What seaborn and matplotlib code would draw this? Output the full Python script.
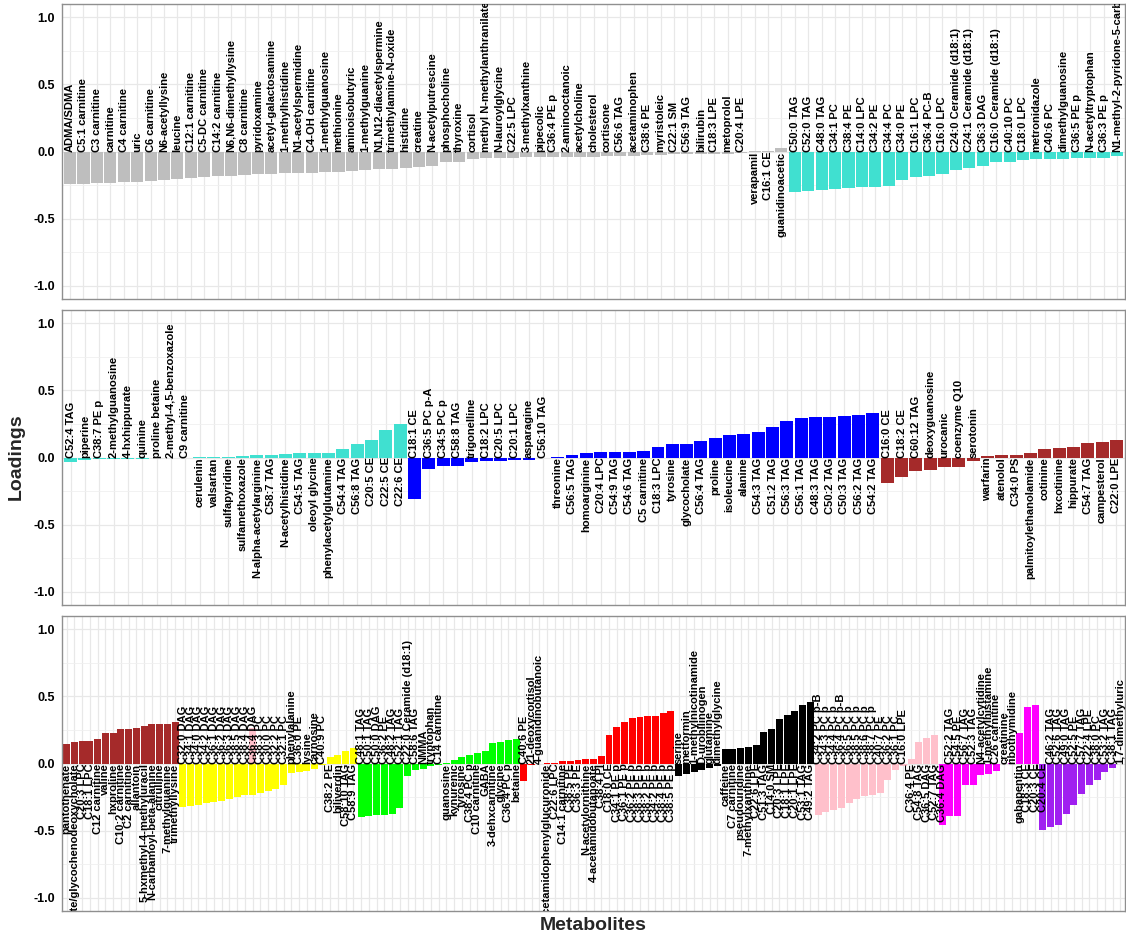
import matplotlib
matplotlib.use("Agg")
import matplotlib.pyplot as plt
import pandas as pd
import seaborn as sns

# ---------------------------------------------------------------- colours
CLUSTER_COLORS = {
    "grey": "#BEBEBE",
    "turquoise": "#40E0D0",
    "blue": "#0000FF",
    "brown": "#A52A2A",
    "yellow": "#FFFF00",
    "green": "#00FF00",
    "red": "#FF0000",
    "black": "#000000",
    "pink": "#FFC0CB",
    "magenta": "#FF00FF",
    "purple": "#A020F0",
}

# ---------------------------------------------------------------- row 1
GREY_NAMES = [
    "ADMA/SDMA", "C5:1 carnitine", "C3 carnitine", "carnitine", "C4 carnitine", "uric",
    "C6 carnitine", "N6-acetyllysine", "leucine", "C12:1 carnitine", "C5-DC carnitine",
    "C14:2 carnitine", "N6,N6-dimethyllysine", "C8 carnitine", "pyridoxamine",
    "acetyl-galactosamine", "1-methylhistidine", "N1-acetylspermidine", "C4-OH carnitine",
    "1-methylguanosine", "methionine", "aminoisobutyric", "1-methylguanine",
    "N1,N12-diacetylspermine", "trimethylamine-N-oxide", "histidine", "creatine",
    "N-acetylputrescine", "phosphocholine", "thyroxine", "cortisol",
    "methyl N-methylanthranilate", "N-lauroylglycine", "C22:5 LPC", "3-methylxanthine",
    "pipecolic", "C36:4 PE p", "2-aminooctanoic", "acetylcholine", "cholesterol",
    "cortisone", "C56:6 TAG", "acetaminophen", "C38:6 PE", "myristoleic", "C22:1 SM",
    "C56:9 TAG", "bilirubin", "C18:3 LPE", "metoprolol", "C20:4 LPE", "verapamil",
    "C16:1 CE", "guanidinoacetic",
]
GREY_LOADINGS = [
    -0.240, -0.240, -0.237, -0.235, -0.228, -0.225, -0.222, -0.212, -0.205, -0.197,
    -0.192, -0.186, -0.180, -0.172, -0.170, -0.166, -0.162, -0.160, -0.157, -0.155,
    -0.152, -0.146, -0.135, -0.133, -0.130, -0.122, -0.115, -0.110, -0.080, -0.080,
    -0.056, -0.052, -0.048, -0.045, -0.044, -0.043, -0.042, -0.041, -0.040, -0.038,
    -0.037, -0.035, -0.031, -0.027, -0.023, -0.022, -0.020, -0.019, -0.017, -0.015,
    -0.012, 0.001, 0.003, 0.025,
]

TURQUOISE_A_NAMES = [
    "C50:0 TAG", "C52:0 TAG", "C48:0 TAG", "C34:1 PC", "C38:4 PE", "C14:0 LPC",
    "C34:2 PE", "C34:4 PC", "C34:0 PE", "C16:1 LPC", "C36:4 PC-B", "C16:0 LPC",
    "C24:0 Ceramide (d18:1)", "C24:1 Ceramide (d18:1)", "C36:3 DAG",
    "C16:0 Ceramide (d18:1)", "C40:10 PC", "C18:0 LPC", "metronidazole", "C40:6 PC",
    "dimethylguanosine", "C36:5 PE p", "N-acetyltryptophan", "C36:3 PE p",
    "N1-methyl-2-pyridone-5-carboxamide",
]
TURQUOISE_A_LOADINGS = [
    -0.300, -0.292, -0.287, -0.280, -0.273, -0.267, -0.262, -0.260, -0.212, -0.187,
    -0.182, -0.167, -0.140, -0.120, -0.105, -0.082, -0.075, -0.060, -0.057, -0.056,
    -0.054, -0.048, -0.047, -0.045, -0.037,
]

# ---------------------------------------------------------------- row 2
TURQUOISE_B_NAMES = [
    "C52:4 TAG", "piperine", "C38:7 PE p", "2-methylguanosine", "4-hxhippurate",
    "quinine", "proline betaine", "2-methyl-4,5-benzoxazole", "C9 carnitine",
    "cerulenin", "valsartan", "sulfapyridine", "sulfamethoxazole",
    "N-alpha-acetylarginine", "C58:7 TAG", "N-acetylhistidine", "C54:5 TAG",
    "oleoyl glycine", "phenylacetylglutamine", "C54:4 TAG", "C56:8 TAG", "C20:5 CE",
    "C22:5 CE", "C22:6 CE",
]
TURQUOISE_B_LOADINGS = [
    -0.035, -0.017, -0.013, -0.012, -0.010, -0.009, -0.007, -0.006, -0.005, 0.001,
    0.003, 0.005, 0.012, 0.015, 0.017, 0.029, 0.030, 0.036, 0.037, 0.065, 0.102,
    0.130, 0.205, 0.250,
]

BLUE_NAMES = [
    "C18:1 CE", "C36:5 PC p-A", "C34:5 PC p", "C58:8 TAG", "trigonelline", "C18:2 LPC",
    "C20:5 LPC", "C20:1 LPC", "asparagine", "C56:10 TAG", "threonine", "C56:5 TAG",
    "homoarginine", "C20:4 LPC", "C54:9 TAG", "C54:6 TAG", "C5 carnitine", "C18:3 LPC",
    "tyrosine", "glycocholate", "C56:4 TAG", "proline", "isoleucine", "alanine",
    "C54:3 TAG", "C51:2 TAG", "C56:3 TAG", "C56:1 TAG", "C48:3 TAG", "C50:2 TAG",
    "C50:3 TAG", "C56:2 TAG", "C54:2 TAG",
]
BLUE_LOADINGS = [
    -0.312, -0.085, -0.067, -0.060, -0.030, -0.027, -0.025, -0.022, -0.017, -0.006,
    0.005, 0.020, 0.035, 0.040, 0.041, 0.042, 0.052, 0.080, 0.100, 0.101, 0.124,
    0.144, 0.169, 0.176, 0.190, 0.226, 0.275, 0.293, 0.300, 0.305, 0.308, 0.315,
    0.333,
]

BROWN_A_NAMES = [
    "C16:0 CE", "C18:2 CE", "C60:12 TAG", "deoxyguanosine", "urocanic", "coenzyme Q10",
    "serotonin", "warfarin", "atenolol", "C34:0 PS", "palmitoylethanolamide",
    "cotinine", "hxcotinine", "hippurate", "C54:7 TAG", "campesterol", "C22:0 LPE",
]
BROWN_A_LOADINGS = [
    -0.190, -0.146, -0.104, -0.092, -0.072, -0.071, -0.027, 0.010, 0.016, 0.017,
    0.032, 0.060, 0.070, 0.080, 0.110, 0.114, 0.127,
]

# ---------------------------------------------------------------- row 3
BROWN_B_NAMES = [
    "pantothenate", "glycodeoxycholate/glycochenodeoxycholate", "C20:3 LPC",
    "C18:1 LPC", "C12 carnitine", "valine", "hxproline", "C10:2 carnitine",
    "C2 carnitine", "allantoin", "5-hxmethyl-4-methyluracil",
    "N-carbamoyl-beta-alanine", "citrulline", "7-methylguanine", "trimethyllysine",
]
BROWN_B_LOADINGS = [
    0.143, 0.163, 0.168, 0.170, 0.180, 0.226, 0.230, 0.255, 0.256, 0.264, 0.280,
    0.293, 0.294, 0.296, 0.307,
]

YELLOW_NAMES = [
    "C32:0 DAG", "C34:1 DAG", "C34:0 DAG", "C34:2 DAG", "C36:1 DAG", "C36:2 DAG",
    "C36:3 DAG", "C38:5 DAG", "C38:4 DAG", "C36:4 DAG", "C38:3 PC", "C30:0 PC",
    "C32:2 PC", "C32:1 PC", "phenylalanine", "C36:0 PE", "lysine", "carnosine",
    "C40:9 PC", "C38:2 PE", "biliverdin", "C58:10 TAG", "C58:9 TAG",
]
YELLOW_LOADINGS = [
    -0.322, -0.317, -0.310, -0.297, -0.290, -0.280, -0.267, -0.247, -0.237, -0.232,
    -0.217, -0.204, -0.191, -0.159, -0.070, -0.060, -0.053, -0.038, -0.010, 0.050,
    0.060, 0.093, 0.113,
]

GREEN_NAMES = [
    "C48:1 TAG", "C50:1 TAG", "C50:0 DAG", "C36:2 PE", "C48:2 TAG", "C52:1 TAG",
    "C22:0 Ceramide (d18:1)", "C58:6 TAG", "NMMA", "tryptophan", "C14 carnitine",
    "guanosine", "kynurenic", "tyrosine", "C38:4 PC p", "C10 carnitine", "GABA",
    "3-dehxcarnitine", "glycine", "C36:4 PC p", "betaine",
]
GREEN_LOADINGS = [
    -0.397, -0.393, -0.387, -0.385, -0.379, -0.335, -0.096, -0.047, -0.040, -0.020,
    -0.008, 0.005, 0.025, 0.045, 0.065, 0.080, 0.095, 0.155, 0.157, 0.175, 0.180,
]

RED_NAMES = [
    "C40:6 PE", "21-deoxycortisol", "4-guanidinobutanoic",
    "4-acetamidophenylglucuronide", "C22:6 LPC", "C14:1 carnitine", "C38:5 PE",
    "C36:3 PE", "N-acetylornithine", "4-acetamidobutanoate", "C38:4 PI", "C18:0 CE",
    "C34:1 PE p", "C36:1 PE p", "C36:2 PE p", "C38:3 PE p", "C38:2 PE p",
    "C34:2 PE p", "C38:4 PE p", "C38:5 PE p",
]
RED_LOADINGS = [
    -0.130, -0.010, -0.005, 0.003, 0.006, 0.018, 0.022, 0.025, 0.030, 0.037, 0.055,
    0.212, 0.270, 0.310, 0.340, 0.350, 0.352, 0.355, 0.375, 0.390,
]

BLACK_NAMES = [
    "serine", "metformin", "1-methylnicotinamide", "D-urobilinogen", "glutamine",
    "dimethylglycine", "caffeine", "C7 carnitine", "pseudouridine", "7-methylxanthine",
    "C22:6 LPE", "C51:3 TAG", "C14:0 SM", "C20:3 LPE", "C18:1 LPE", "C20:1 LPE",
    "C53:1 TAG", "C49:2 TAG",
]
BLACK_LOADINGS = [
    -0.095, -0.075, -0.060, -0.045, -0.030, -0.020, 0.105, 0.110, 0.115, 0.120,
    0.140, 0.235, 0.260, 0.335, 0.360, 0.390, 0.440, 0.460,
]

PINK_NAMES = [
    "C34:2 PC p-B", "C34:3 PC p", "C34:4 PC p", "C36:4 PC p-B", "C36:5 PC p",
    "C38:5 PC p", "C38:6 PC p", "C38:7 PC p", "C40:7 PE", "C36:2 PC", "C36:1 PC",
    "C16:0 LPE", "C36:4 PE", "C54:8 TAG", "C36:5 DAG", "C52:7 TAG", "C36:4 DAG",
]
PINK_LOADINGS = [
    -0.385, -0.362, -0.350, -0.335, -0.292, -0.266, -0.246, -0.236, -0.220, -0.120,
    -0.045, -0.020, 0.030, 0.160, 0.190, 0.210, 0.265,
]

MAGENTA_NAMES = [
    "C52:2 TAG", "C54:5 PE", "C56:7 TAG", "C52:3 TAG", "N4-acetylcytidine",
    "1-methylhistamine", "C26 carnitine", "creatinine", "ribothymidine",
    "gabapentin", "C18:3 CE", "C20:3 CE", "C20:4 CE",
]
MAGENTA_LOADINGS = [
    -0.460, -0.395, -0.390, -0.160, -0.158, -0.085, -0.080, -0.055, -0.006, 0.005,
    0.225, 0.425, 0.440,
]

PURPLE_NAMES = [
    "C46:2 TAG", "C52:6 TAG", "C49:0 TAG", "C52:5 PE", "C57:7 TAG", "C22:4 LPE",
    "C38:0 PC", "C53:2 TAG", "C38:1 TAG", "1,7-dimethyluric",
]
PURPLE_LOADINGS = [
    -0.495, -0.475, -0.460, -0.380, -0.310, -0.230, -0.160, -0.120, -0.060, -0.030,
]

ROWS = [
    [("grey", GREY_NAMES, GREY_LOADINGS),
     ("turquoise", TURQUOISE_A_NAMES, TURQUOISE_A_LOADINGS)],
    [("turquoise", TURQUOISE_B_NAMES, TURQUOISE_B_LOADINGS),
     ("blue", BLUE_NAMES, BLUE_LOADINGS),
     ("brown", BROWN_A_NAMES, BROWN_A_LOADINGS)],
    [("brown", BROWN_B_NAMES, BROWN_B_LOADINGS),
     ("yellow", YELLOW_NAMES, YELLOW_LOADINGS),
     ("green", GREEN_NAMES, GREEN_LOADINGS),
     ("red", RED_NAMES, RED_LOADINGS),
     ("black", BLACK_NAMES, BLACK_LOADINGS),
     ("pink", PINK_NAMES, PINK_LOADINGS),
     ("magenta", MAGENTA_NAMES, MAGENTA_LOADINGS),
     ("purple", PURPLE_NAMES, PURPLE_LOADINGS)],
]

Y_TICKS = [-1.0, -0.5, 0.0, 0.5, 1.0]
Y_TICK_LABELS = ["-1.0", "-0.5", "0.0", "0.5", "1.0"]

# ---------------------------------------------------------------- style
sns.set_theme(style="whitegrid")
plt.rcParams["font.family"] = ["Liberation Sans", "DejaVu Sans"]

W, H = 1126, 936
fig = plt.figure(figsize=(W / 100, H / 100), dpi=100)

left_px, width_px, height_px = 62, 1063, 295
tops_px = [4, 310, 616]

for row, top in zip(ROWS, tops_px):
    frames = [pd.DataFrame({"metabolite": n, "loading": v, "cluster": c})
              for c, n, v in row]
    df = pd.concat(frames, ignore_index=True)
    order = list(df["metabolite"])
    clusters = list(dict.fromkeys(df["cluster"]))

    ax = fig.add_axes([left_px / W, 1 - (top + height_px) / H,
                       width_px / W, height_px / H])
    sns.barplot(data=df, x="metabolite", y="loading", hue="cluster",
                order=order, hue_order=clusters, palette=CLUSTER_COLORS,
                dodge=False, width=0.9, saturation=1, errorbar=None,
                linewidth=0, legend=False, ax=ax)

    n = len(order)
    ax.set_xlim(-0.6, n - 0.4)
    ax.set_ylim(-1.1, 1.1)
    ax.set_xlabel("")
    ax.set_ylabel("")

    ax.set_xticks(range(n))
    ax.set_xticklabels([])
    ax.set_yticks(Y_TICKS)
    ax.set_yticklabels(Y_TICK_LABELS, fontsize=9, fontweight="bold", color="black")
    ax.set_yticks([-0.75, -0.25, 0.25, 0.75], minor=True)
    ax.tick_params(axis="x", which="both", length=0)
    ax.tick_params(axis="y", which="major", length=3, width=0.8, color="#333333", pad=2)
    ax.tick_params(axis="y", which="minor", length=0)

    ax.set_axisbelow(True)
    ax.grid(True, which="major", axis="both", color="#E8E8E8", linewidth=0.9)
    ax.grid(True, which="minor", axis="y", color="#F0F0F0", linewidth=0.6)
    for sp in ax.spines.values():
        sp.set_visible(True)
        sp.set_color("#8f8f8f")
        sp.set_linewidth(1.0)

    # metabolite names written at the zero line, on the side opposite the bar
    for i, (name, val) in enumerate(zip(df["metabolite"], df["loading"])):
        ax.text(i, 0, name, rotation=90, ha="center",
                va="bottom" if val < 0 else "top",
                fontsize=8, fontweight="bold", color="black", clip_on=True)

fig.text(16 / W, 1 - 457 / H, "Loadings", rotation=90, ha="center", va="center",
         fontsize=14, fontweight="bold")
fig.text(593 / W, 1 - 925 / H, "Metabolites", ha="center", va="center",
         fontsize=14, fontweight="bold")

fig.savefig("out.png", dpi=100)
